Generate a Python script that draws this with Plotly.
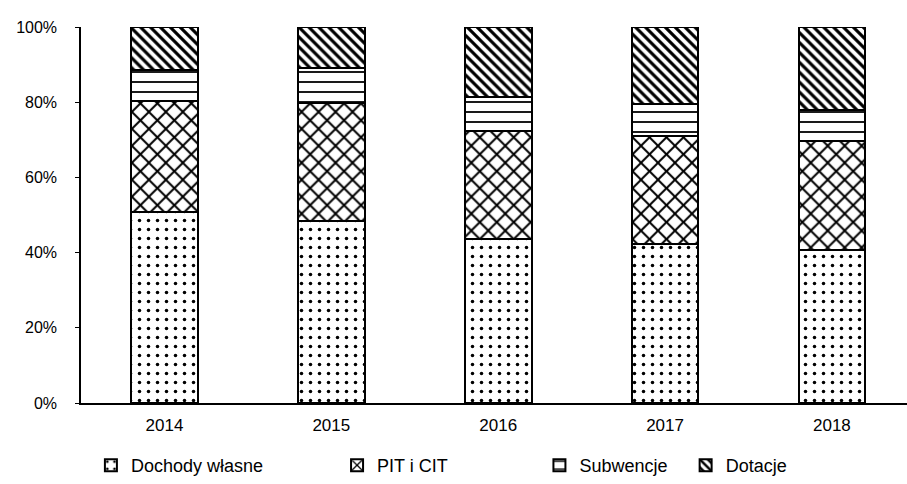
import plotly.graph_objects as go

years = ["2014", "2015", "2016", "2017", "2018"]
series_names = ["Dochody własne", "PIT i CIT", "Subwencje", "Dotacje"]
dochody = [50.8, 48.5, 43.5, 42.4, 40.7]
pit_cit = [29.4, 31.4, 28.9, 28.7, 28.9]
subwencje = [8.4, 9.3, 9.0, 8.5, 8.4]
dotacje = [11.4, 10.8, 18.6, 20.4, 22.0]
y_ticks = [0, 20, 40, 60, 80, 100]
y_tick_labels = ["0%", "20%", "40%", "60%", "80%", "100%"]

values = [dochody, pit_cit, subwencje, dotacje]
patterns = [
    dict(shape=".", size=9, solidity=0.12),
    dict(shape="x", size=12, solidity=0.3),
    dict(shape="-", size=10, solidity=0.18),
    dict(shape="\\", size=7, solidity=0.45),
]
legend_ids = ["legend", "legend2", "legend3", "legend4"]
legend_x = [0.012, 0.31, 0.555, 0.732]

FONT = "Liberation Sans, Arial, sans-serif"

fig = go.Figure()
for name, vals, pat, lid in zip(series_names, values, patterns, legend_ids):
    fig.add_trace(go.Bar(
        x=years, y=vals, name=name, legend=lid, showlegend=True,
        marker=dict(color="white",
                    line=dict(color="black", width=2),
                    pattern=dict(fgcolor="black", bgcolor="white",
                                 fillmode="replace", **pat)),
        width=0.4,
    ))

legend_common = dict(orientation="h", yanchor="middle", y=-0.165,
                     xanchor="left", font=dict(family=FONT, size=18, color="black"),
                     bgcolor="rgba(0,0,0,0)", borderwidth=0, itemwidth=30)

layout_legends = {}
for lid, lx in zip(legend_ids, legend_x):
    layout_legends[lid] = dict(legend_common, x=lx)

fig.update_layout(
    width=907, height=484,
    margin=dict(l=81, r=0, t=27, b=80),
    plot_bgcolor="white", paper_bgcolor="white",
    barmode="stack",
    showlegend=True,
    font=dict(family=FONT, size=16, color="black"),
    xaxis=dict(range=[-0.5, 4.45], showline=True, linecolor="black", linewidth=2,
               ticks="", tickfont=dict(size=17), showgrid=False, zeroline=False,
               ticklabelstandoff=6),
    yaxis=dict(range=[0, 100], tickvals=y_ticks, ticktext=y_tick_labels,
               showline=True, linecolor="black", linewidth=1.5, ticks="outside",
               ticklen=4, tickcolor="black", showgrid=False, zeroline=False,
               tickfont=dict(size=16), ticklabelstandoff=15),
    **layout_legends,
)

fig.write_html("out.html", config={"displayModeBar": False},
               post_script="document.body.style.margin='0';")
